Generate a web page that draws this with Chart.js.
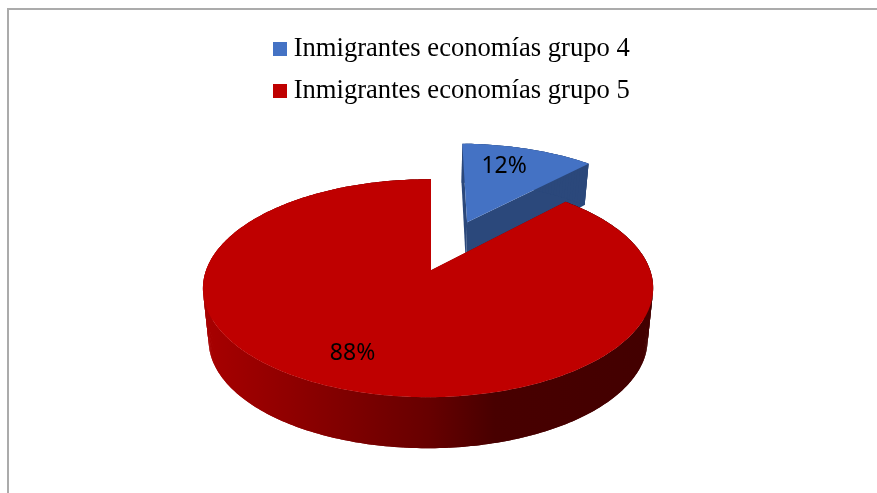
<!DOCTYPE html>
<html lang="es">
<head>
<meta charset="utf-8">
<title>Inmigrantes por grupo de economías</title>
<script src="https://cdn.jsdelivr.net/npm/chart.js@4"></script>
<style>
  html, body { margin: 0; padding: 0; background: #fff; overflow: hidden; }
  #frame { position: absolute; left: 7px; top: 8px; width: 900px; height: 520px;
           border: 2px solid #ababab; box-sizing: border-box; }
  #pie { position: absolute; left: 135px; top: 0; }
</style>
</head>
<body>
<div id="frame"></div>
<canvas id="pie" width="640" height="493"></canvas>
<script>
// Chart data
const groupNames = ['Inmigrantes economías grupo 4', 'Inmigrantes economías grupo 5'];
const groupShares = [12, 88];

// Styling of each slice
const topColors = ['#4472c4', '#bf0000'];
const sliceOffsets = [117, 0];
const explodeLean = [-4, 0];
const labelReach = [0.72, 0.76];
const labelTurnDeg = [-3.9, 2.6];

// Oblique view of the disc
const pieRadius = 222;
const shiftX = -24;
const squash = 0.4775;
const perspective = 0.165;
const sidePerspective = 0.013;
const baseScale = 0.975;
const cutFaceShade = 0.63;
// Brightness of the rim from the left edge (0) to the right edge (1)
const rimShadeStops = [[0, 0.875], [0.2, 0.745], [0.5, 0.54], [0.65, 0.375], [1, 0.35]];

function shade(hex, factor) {
  const n = parseInt(hex.slice(1), 16);
  const c = [n >> 16, (n >> 8) & 255, n & 255].map(v => Math.round(v * factor));
  return `rgb(${c[0]},${c[1]},${c[2]})`;
}

// Legend swatch: wider than the box the legend reserves, so the text sits close to it
function swatch(color) {
  const c = document.createElement('canvas');
  c.width = 14; c.height = 14;
  const g = c.getContext('2d');
  g.fillStyle = color;
  g.fillRect(0, 0, 14, 14);
  return c;
}

// Draws the arcs laid out by the pie controller as a tilted solid disc
const tiltedDisc = {
  id: 'tiltedDisc',
  beforeDatasetsDraw(chart) {
    const ctx = chart.ctx;
    const arcs = chart.getDatasetMeta(0).data;

    const toScreen = (el, lx, ly) => {
      const R = el.outerRadius;
      const d = 1 - perspective * ly / R + sidePerspective * lx / R;
      return { x: el.x + shiftX + lx / d, y: el.y + squash * ly / d };
    };
    const toBase = (el, lx, ly) => {
      const p = toScreen(el, lx, ly);
      const v = ly / el.outerRadius;
      const depth = v < 0 ? 52 + 8.7 * v : 52 - v;
      return { x: el.x + shiftX + (p.x - el.x - shiftX) * baseScale, y: p.y + depth };
    };
    const poly = (pts, fill) => {
      ctx.beginPath();
      pts.forEach((p, i) => i ? ctx.lineTo(p.x, p.y) : ctx.moveTo(p.x, p.y));
      ctx.closePath();
      ctx.fillStyle = fill;
      ctx.fill();
    };
    // Tip of a wedge after it has been pulled out of the disc
    const wedgeTip = (el, i) => {
      const mid = (el.startAngle + el.endAngle) / 2;
      const off = el.options.offset || 0;
      return [off * Math.cos(mid) + explodeLean[i], off * Math.sin(mid)];
    };

    arcs.forEach((el, i) => {
      const [ox, oy] = wedgeTip(el, i);
      const R = el.outerRadius;
      const steps = Math.ceil((el.endAngle - el.startAngle) / (Math.PI / 180));
      const rim = [];
      for (let s = 0; s <= steps; s++) {
        const a = el.startAngle + (el.endAngle - el.startAngle) * s / steps;
        rim.push([ox + R * Math.cos(a), oy + R * Math.sin(a)]);
      }
      const color = topColors[i];
      const flat = shade(color, cutFaceShade);

      // Cut faces of the wedge
      const cutFace = ([lx, ly]) => poly([
        toScreen(el, ox, oy), toScreen(el, lx, ly),
        toBase(el, lx, ly), toBase(el, ox, oy)
      ], flat);
      cutFace(rim[0]);
      cutFace(rim[steps]);

      // Outer wall, shaded from left to right on the whole disc.
      // Neighbouring strips overlap by one step so no seams show.
      let wallFill = flat;
      if (!el.options.offset) {
        wallFill = ctx.createLinearGradient(toScreen(el, -R, 0).x, 0, toScreen(el, R, 0).x, 0);
        rimShadeStops.forEach(([t, f]) => wallFill.addColorStop(t, shade(color, f)));
      }
      for (let s = 0; s < steps; s++) {
        const part = rim.slice(s, s + 3);
        poly([
          ...part.map(([x, y]) => toScreen(el, x, y)),
          ...part.slice().reverse().map(([x, y]) => toBase(el, x, y))
        ], wallFill);
      }

      // Top surface
      poly([toScreen(el, ox, oy), ...rim.map(([x, y]) => toScreen(el, x, y))], color);
    });

    // Percentage labels
    ctx.fillStyle = '#000';
    ctx.font = '23px "Noto Sans"';
    ctx.textAlign = 'center';
    ctx.textBaseline = 'middle';
    arcs.forEach((el, i) => {
      const mid = (el.startAngle + el.endAngle) / 2;
      const [ox, oy] = wedgeTip(el, i);
      const a = mid + labelTurnDeg[i] * Math.PI / 180;
      const r = labelReach[i] * el.outerRadius;
      const p = toScreen(el, ox + r * Math.cos(a), oy + r * Math.sin(a));
      ctx.fillText(groupShares[i] + '%', p.x, p.y);
    });
    return false;
  }
};

new Chart(document.getElementById('pie'), {
  type: 'pie',
  plugins: [tiltedDisc],
  data: {
    labels: groupNames,
    datasets: [{
      data: groupShares,
      backgroundColor: topColors,
      offset: sliceOffsets,
      borderWidth: 0
    }]
  },
  options: {
    responsive: false,
    animation: false,
    radius: pieRadius,
    layout: { padding: { top: 20, bottom: 66.5 } },
    plugins: {
      tooltip: { enabled: false },
      legend: {
        position: 'top',
        labels: {
          padding: 15.4,
          color: '#000',
          font: { family: '"Liberation Serif"', size: 26.6 },
          usePointStyle: true,
          pointStyleWidth: 0.1,
          generateLabels: () => groupNames.map((text, index) => ({
            text,
            index,
            fillStyle: topColors[index],
            strokeStyle: topColors[index],
            lineWidth: 0,
            fontColor: '#000',
            pointStyle: swatch(topColors[index])
          }))
        }
      }
    }
  }
});
</script>
</body>
</html>
